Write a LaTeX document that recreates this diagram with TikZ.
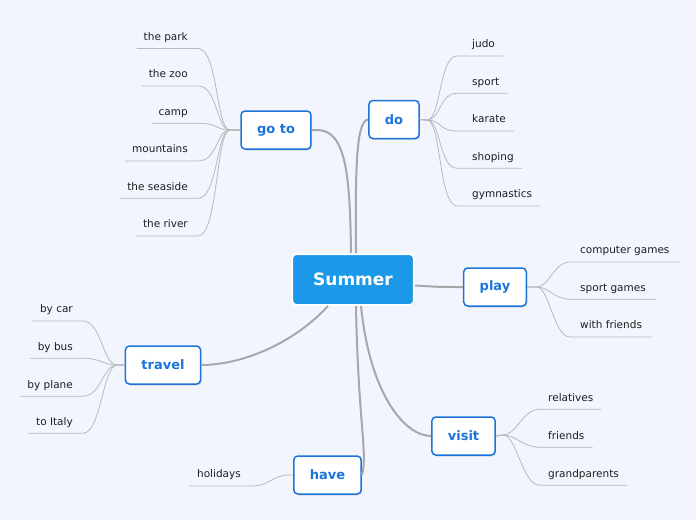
\documentclass[tikz,border=0pt]{standalone}
\usepackage{fontspec}
\setmainfont{DejaVu Sans}
\usetikzlibrary{positioning, calc, shadows}
\definecolor{bgpage}{RGB}{242,245,254}
\definecolor{summerblue}{RGB}{27,152,232}
\definecolor{branchblue}{RGB}{28,116,218}
\definecolor{linkgray}{RGB}{168,168,168}
\definecolor{leafgray}{RGB}{185,185,185}
\definecolor{leaftext}{RGB}{30,30,30}

\tikzset{
  root/.style={fill=summerblue, draw=white, line width=2pt, rounded corners=4pt,
    text=white, font=\bfseries\fontsize{17}{20}\selectfont,
    inner xsep=21pt, minimum height=51pt,
    drop shadow={opacity=0.25, shadow xshift=1pt, shadow yshift=-1pt}},
  branch/.style={fill=white, draw=branchblue, line width=1.5pt, rounded corners=4pt,
    text=branchblue, font=\bfseries\fontsize{13}{15}\selectfont,
    inner xsep=16pt, minimum height=38pt,
    drop shadow={opacity=0.25, shadow xshift=1pt, shadow yshift=-1.5pt}},
  leaf/.style={text=leaftext, font=\fontsize{10.5}{12}\selectfont,
    inner sep=0pt, text height=8pt, text depth=2.5pt},
  link/.style={linkgray, line width=2pt},
  twig/.style={leafgray, line width=0.8pt},
}

\begin{document}
\begin{tikzpicture}[x=1pt, y=-1pt]
  \fill[bgpage] (0,0) rectangle (696,520);
  \useasboundingbox (0,0) rectangle (696,520);

  % centre and branches
  \node[root] (summer) at (353,279.5) {Summer};
  \node[branch] (goto) at (276,130) {go to};
  \node[branch] (do) at (394,119.5) {do};
  \node[branch] (play) at (495,287) {play};
  \node[branch] (visit) at (463.5,436) {visit};
  \node[branch] (have) at (327.5,475) {have};
  \node[branch] (travel) at (163,365) {travel};

  % links from the centre
  \draw[link] ($(summer.north)+(-2,0)$) .. controls (350,175) and (346,131) .. (318,130) -- (goto.east);
  \draw[link] ($(summer.north)+(3,0)$) .. controls (355,160) and (357,121) .. (do.west);
  \draw[link] ($(summer.east)+(0,6)$) .. controls (440,287) .. (play.west);
  \draw[link] ($(summer.south)+(8,0)$) .. controls (370,395) and (405,436) .. (visit.west);
  \draw[link] ($(summer.south)+(3,0)$) .. controls (358,420) and (368,455) .. (have.east);
  \draw[link] ($(summer.south)+(-25,0)$) .. controls (292,345) and (240,365) .. (travel.east);

  % leaves of go to
  \coordinate (goto-in) at (230,130);
  \foreach \nm/\txt/\y in {park/the park/37.5, zoo/the zoo/75, camp/camp/112.3,
      mount/mountains/150, sea/the seaside/187.3, river/the river/225} {
    \node[leaf, anchor=east] (\nm) at (188,\y) {\txt};
    \draw[twig] ($(\nm.south west)+(-7,5.5)$) -- ($(\nm.south east)+(10,5.5)$)
      .. controls +(20,0) and +(-14,0) .. (goto-in) -- (goto.west);
  }

  % leaves of do
  \coordinate (do-out) at (427,120);
  \foreach \nm/\txt/\y in {judo/judo/45, dosport/sport/82.3, karate/karate/120,
      shop/shoping/157.3, gym/gymnastics/195} {
    \node[leaf, anchor=west] (\nm) at (472,\y) {\txt};
    \draw[twig] (do.east) -- (do-out) .. controls +(14,0) and +(-18,0) ..
      ($(\nm.south west)+(-15,5.5)$) -- ($(\nm.south east)+(8,5.5)$);
  }

  % leaves of play
  \coordinate (play-out) at (537,287);
  \foreach \nm/\txt/\y in {comp/computer games/251, games/sport games/288.3,
      withfr/with friends/326} {
    \node[leaf, anchor=west] (\nm) at (580,\y) {\txt};
    \draw[twig] (play.east) -- (play-out) .. controls +(12,0) and +(-16,0) ..
      ($(\nm.south west)+(-10,5.5)$) -- ($(\nm.south east)+(10,5.5)$);
  }

  % leaves of visit
  \coordinate (visit-out) at (503,435);
  \foreach \nm/\txt/\y in {rel/relatives/398.3, friends/friends/436.3,
      grand/grandparents/474.3} {
    \node[leaf, anchor=west] (\nm) at (548,\y) {\txt};
    \draw[twig] (visit.east) -- (visit-out) .. controls +(14,0) and +(-18,0) ..
      ($(\nm.south west)+(-8,5.5)$) -- ($(\nm.south east)+(8,5.5)$);
  }

  % leaves of travel
  \coordinate (travel-in) at (117,365);
  \foreach \nm/\txt/\y in {car/by car/310, bus/by bus/347.3, plane/by plane/385.3,
      italy/to Italy/422.3} {
    \node[leaf, anchor=east] (\nm) at (73,\y) {\txt};
    \draw[twig] ($(\nm.south west)+(-8,5.5)$) -- ($(\nm.south east)+(10,5.5)$)
      .. controls +(18,0) and +(-14,0) .. (travel-in) -- (travel.west);
  }

  % leaf of have
  \coordinate (have-in) at (289,475);
  \node[leaf, anchor=east] (hol) at (241,475) {holidays};
  \draw[twig] ($(hol.south west)+(-8,5.5)$) -- ($(hol.south east)+(12,5.5)$)
    .. controls +(16,0) and +(-16,0) .. (have-in) -- (have.west);
\end{tikzpicture}
\end{document}
